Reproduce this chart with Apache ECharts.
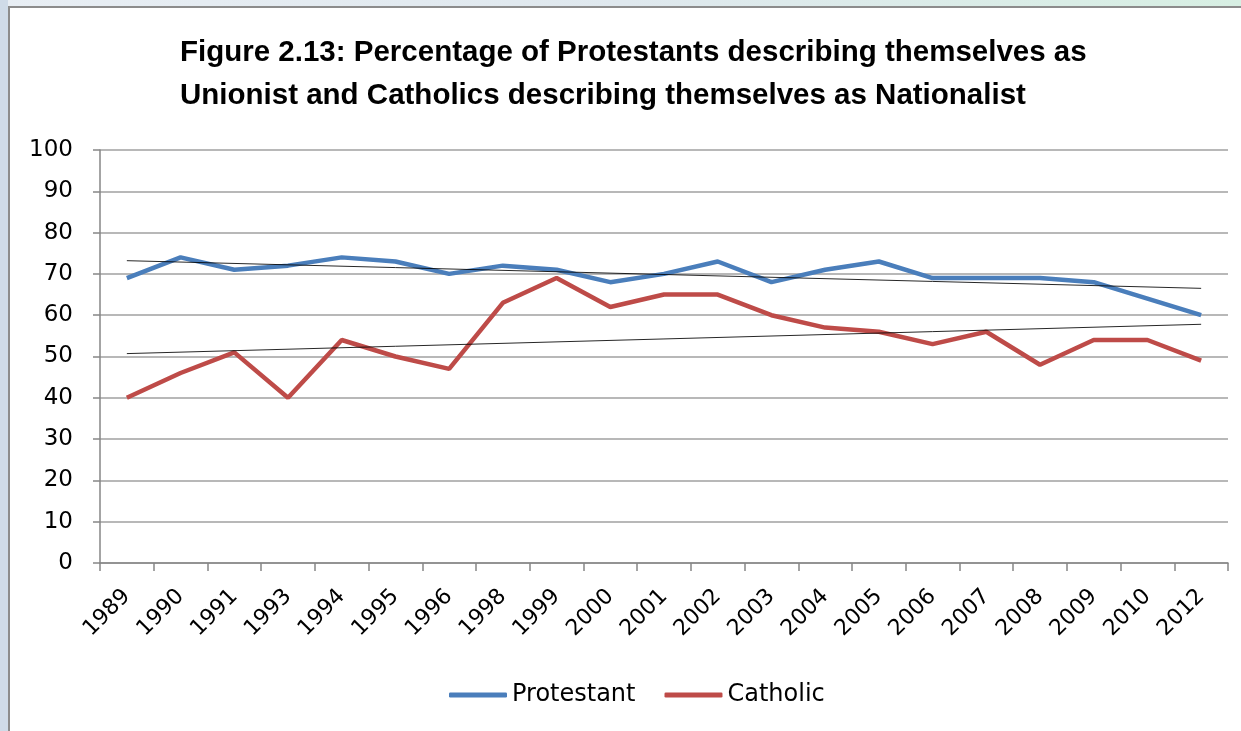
<!DOCTYPE html>
<html>
<head>
    <meta charset="UTF-8">
    <title>Figure 2.13</title>
    <script src="https://cdn.jsdelivr.net/npm/echarts@6/dist/echarts.min.js"></script>
    <style>
        html, body { margin: 0; padding: 0; background: #ffffff; }
        #strip-top { position: absolute; left: 0; top: 0; width: 1241px; height: 6px;
            background: linear-gradient(to right, #e8eef4 0%, #dfe8ee 50%, #d7efe3 100%); }
        #strip-left { position: absolute; left: 0; top: 0; width: 8px; height: 731px; background: #cfdbe8; }
        #frame { position: absolute; left: 8px; top: 6px; width: 1233px; height: 725px;
            border-top: 2px solid #8c8c8c; border-left: 2px solid #8c8c8c; box-sizing: border-box; }
        #main { position: absolute; left: 0; top: 0; width: 1241px; height: 731px; }
    </style>
</head>
<body>
<div id="strip-top"></div>
<div id="strip-left"></div>
<div id="frame"></div>
<div id="main"></div>
<script type="text/javascript">
    // data
    var years = ['1989', '1990', '1991', '1993', '1994', '1995', '1996', '1998', '1999', '2000', '2001',
        '2002', '2003', '2004', '2005', '2006', '2007', '2008', '2009', '2010', '2012'];
    var protestant = [69, 74, 71, 72, 74, 73, 70, 72, 71, 68, 70, 73, 68, 71, 73, 69, 69, 69, 68, 64, 60];
    var catholic = [40, 46, 51, 40, 54, 50, 47, 63, 69, 62, 65, 65, 60, 57, 56, 53, 56, 48, 54, 54, 49];
    // linear trend lines: value at first and last year
    var protestantTrend = [73.2, 66.5];
    var catholicTrend = [50.7, 57.8];
    var yTicks = [0, 100, 10]; // min, max, step

    var axisFont = 'DejaVu Sans';

    function trendLine(ends) {
        return {
            silent: true,
            symbol: 'none',
            label: {show: false},
            lineStyle: {color: '#000000', width: 1, type: 'solid', opacity: 0.85},
            data: [[
                {coord: [years[0], ends[0]]},
                {coord: [years[years.length - 1], ends[1]]}
            ]]
        };
    }

    var myChart = echarts.init(document.getElementById('main'));
    var option = {
        animation: false,
        title: {
            text: 'Figure 2.13: Percentage of Protestants describing themselves as\nUnionist and Catholics describing themselves as Nationalist',
            left: 175,
            top: 26,
            textStyle: {
                fontFamily: 'Liberation Sans',
                fontWeight: 'bold',
                fontSize: 29.5,
                lineHeight: 43,
                color: '#000000'
            }
        },
        legend: {
            data: ['Protestant', 'Catholic'],
            left: 444,
            top: 678,
            icon: 'roundRect',
            itemWidth: 58,
            itemHeight: 5,
            itemGap: 29,
            textStyle: {fontFamily: axisFont, fontSize: 24, color: '#000000'}
        },
        grid: {
            left: 100,
            right: 13,
            top: 150,
            bottom: 168,
            containLabel: false
        },
        xAxis: {
            type: 'category',
            data: years,
            boundaryGap: true,
            axisLine: {lineStyle: {color: '#868686', width: 1.5}},
            axisTick: {show: true, length: 8, alignWithLabel: false, lineStyle: {color: '#868686', width: 1.5}},
            axisLabel: {
                interval: 0,
                rotate: 45,
                margin: 30,
                fontFamily: axisFont,
                fontSize: 22,
                color: '#000000'
            },
            splitLine: {show: false}
        },
        yAxis: {
            type: 'value',
            min: yTicks[0],
            max: yTicks[1],
            interval: yTicks[2],
            axisLine: {show: true, lineStyle: {color: '#868686', width: 1.5}},
            axisTick: {show: true, length: 7, lineStyle: {color: '#868686', width: 1.5}},
            axisLabel: {
                margin: 27,
                fontFamily: axisFont,
                fontSize: 23,
                color: '#000000'
            },
            splitLine: {show: true, lineStyle: {color: '#a0a0a0', width: 1.5}}
        },
        series: [
            {
                name: 'Protestant',
                type: 'line',
                data: protestant,
                symbol: 'none',
                itemStyle: {color: '#4a7ebb'},
                lineStyle: {color: '#4a7ebb', width: 4.5},
                markLine: trendLine(protestantTrend),
                z: 2
            },
            {
                name: 'Catholic',
                type: 'line',
                data: catholic,
                symbol: 'none',
                itemStyle: {color: '#be4b48'},
                lineStyle: {color: '#be4b48', width: 4.5},
                markLine: trendLine(catholicTrend),
                z: 2
            }
        ]
    };
    myChart.setOption(option);
</script>
</body>
</html>
